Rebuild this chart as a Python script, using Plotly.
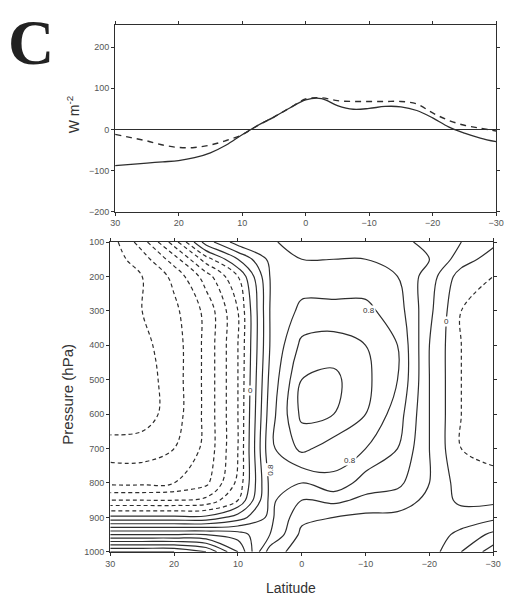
import plotly.graph_objects as go

# ---- top panel data (W m^-2 vs latitude) ----
lat_top = [30, 27.5, 25, 22.5, 20, 17.5, 15, 12.5, 10, 7.5, 5, 2.5, 0,
           -2.5, -5, -7.5, -10, -12.5, -15, -17.5, -20, -22.5, -25, -27.5, -30]
flux_solid = [-88, -85, -82, -79, -76, -69, -57, -38, -13, 10, 30, 52, 72,
              75, 58, 49, 51, 56, 55, 46, 28, 6, -9, -21, -30]
flux_dashed = [-12, -20, -28, -38, -44, -44, -38, -27, -13, 10, 30, 52, 74,
               77, 70, 68, 68, 68, 68, 62, 40, 22, 10, 3, -4]
top_yticks = [-200, -100, 0, 100, 200]
lat_ticks = [30, 20, 10, 0, -10, -20, -30]

# ---- bottom panel data (pressure-latitude field) ----
lat_grid = [30, 25, 20, 15, 10, 5, 0, -5, -10, -15, -20, -25, -30]
p_grid = [100, 150, 200, 300, 400, 500, 600, 700, 800, 850, 900, 950, 1000]
field = [
    [-1.5, -1.1, -0.5, 0.3, 0.7, 0.65, 0.45, 0.5, 0.5, 0.45, 0.35, 0.2, 0.05],
    [-1.5, -1.3, -0.9, -0.3, 0.2, 0.65, 0.6, 0.6, 0.6, 0.55, 0.4, 0.1, -0.1],
    [-1.5, -1.4, -1.15, -0.7, -0.2, 0.6, 0.7, 0.7, 0.7, 0.6, 0.3, -0.1, -0.2],
    [-1.45, -1.4, -1.25, -0.95, -0.4, 0.6, 0.85, 0.85, 0.85, 0.7, 0.25, -0.2, -0.3],
    [-1.5, -1.45, -1.3, -0.95, -0.4, 0.6, 1.05, 1.1, 1.0, 0.8, 0.2, -0.2, -0.3],
    [-1.55, -1.5, -1.3, -0.95, -0.4, 0.65, 1.2, 1.25, 1.05, 0.8, 0.2, -0.2, -0.3],
    [-1.55, -1.5, -1.3, -0.95, -0.4, 0.7, 1.25, 1.2, 1.0, 0.7, 0.2, -0.2, -0.3],
    [-1.3, -1.3, -1.2, -0.95, -0.4, 0.75, 1.05, 0.9, 0.8, 0.6, 0.2, -0.2, -0.25],
    [-1.05, -1.05, -1.0, -0.85, -0.35, 0.65, 0.6, 0.75, 0.5, 0.45, 0.2, -0.1, -0.15],
    [-0.6, -0.6, -0.6, -0.55, -0.2, 0.65, 0.4, 0.45, 0.35, 0.3, 0.15, -0.05, -0.05],
    [0.05, 0.05, 0.05, 0.05, 0.3, 0.65, 0.25, 0.2, 0.15, 0.15, 0.1, 0.1, 0.15],
    [1.0, 1.0, 1.0, 1.0, 0.9, 0.6, 0.15, 0.1, 0.1, 0.1, 0.1, 0.25, 0.45],
    [2.0, 2.0, 2.0, 1.8, 1.2, 0.3, 0.1, 0.1, 0.1, 0.1, 0.1, 0.4, 0.7],
]
p_ticks = [100, 200, 300, 400, 500, 600, 700, 800, 900, 1000]

# contour labels (text, latitude, pressure, angle)
contour_labels = [("0", 8.0, 530, 0), ("0.8", -10.5, 300, 0),
                  ("0.8", -7.5, 735, 0), ("0.8", 4.9, 760, -90),
                  ("0", -22.6, 330, 0)]

W, H = 511, 607
INK = "#2e2e2e"
TICKC = "#555555"

fig = go.Figure()

fig.add_trace(go.Scatter(x=lat_top, y=flux_solid, mode="lines",
                         line=dict(color=INK, width=1.3, shape="spline"),
                         xaxis="x", yaxis="y", hoverinfo="skip"))
fig.add_trace(go.Scatter(x=lat_top, y=flux_dashed, mode="lines",
                         line=dict(color=INK, width=1.4, dash="6px,5px", shape="spline"),
                         xaxis="x", yaxis="y", hoverinfo="skip"))

fig.add_trace(go.Contour(x=lat_grid, y=p_grid, z=field,
                         contours=dict(start=-3.0, end=-0.2, size=0.2, coloring="none"),
                         line=dict(color=INK, width=1.2, dash="4px,3px", smoothing=1.0),
                         showscale=False, hoverinfo="skip",
                         xaxis="x2", yaxis="y2"))
fig.add_trace(go.Contour(x=lat_grid, y=p_grid, z=field,
                         contours=dict(start=0.0, end=2.2, size=0.2, coloring="none"),
                         line=dict(color=INK, width=1.2, smoothing=1.0),
                         showscale=False, hoverinfo="skip",
                         xaxis="x2", yaxis="y2"))

axis_common = dict(showgrid=False, ticks="outside", ticklen=3, tickwidth=1,
                   tickcolor=INK, linecolor=INK, linewidth=1.2, mirror="ticks",
                   tickfont=dict(family="Liberation Sans, Arial", size=9, color=TICKC))

fig.update_layout(
    width=W, height=H,
    margin=dict(l=0, r=0, t=0, b=0),
    paper_bgcolor="white", plot_bgcolor="white",
    showlegend=False,
    xaxis=dict(domain=[113 / W, 504 / W], anchor="y", range=[30, -30],
               tickvals=lat_ticks, zeroline=False, **axis_common),
    yaxis=dict(domain=[1 - 210 / H, 1 - 20 / H], anchor="x", range=[-200, 255],
               tickvals=top_yticks, zeroline=True, zerolinecolor=INK,
               zerolinewidth=1, **axis_common),
    xaxis2=dict(domain=[108 / W, 501 / W], anchor="y2", range=[30, -30],
                tickvals=lat_ticks, zeroline=False, **axis_common),
    yaxis2=dict(domain=[1 - 556 / H, 1 - 241 / H], anchor="x2", range=[1000, 100],
                tickvals=p_ticks, zeroline=False, **axis_common),
)

ann = [
    dict(text="<b>C</b>", x=27 / W, y=1 - 38 / H, xref="paper", yref="paper",
         xanchor="center", yanchor="middle", showarrow=False,
         font=dict(family="Liberation Serif", size=64, color="#222222")),
    dict(text="W m<sup>-2</sup>", x=70 / W, y=1 - 112 / H, xref="paper", yref="paper",
         xanchor="center", yanchor="middle", showarrow=False, textangle=-90,
         font=dict(family="Liberation Sans, Arial", size=14, color="#333333")),
    dict(text="Pressure (hPa)", x=64 / W, y=1 - 396 / H, xref="paper", yref="paper",
         xanchor="center", yanchor="middle", showarrow=False, textangle=-90,
         font=dict(family="Liberation Sans, Arial", size=15, color="#333333")),
    dict(text="Latitude", x=293 / W, y=1 - 593 / H, xref="paper", yref="paper",
         xanchor="center", yanchor="middle", showarrow=False,
         font=dict(family="Liberation Sans, Arial", size=14, color="#333333")),
]
for txt, la, pr, ang in contour_labels:
    ann.append(dict(text=txt, x=la, y=pr, xref="x2", yref="y2", showarrow=False,
                    textangle=ang, bgcolor="white", borderpad=0,
                    font=dict(family="Liberation Sans, Arial", size=8, color="#333333")))
fig.update_layout(annotations=ann)

fig.write_html("out.html", config={"displayModeBar": False},
               post_script="document.body.style.margin='0';")
